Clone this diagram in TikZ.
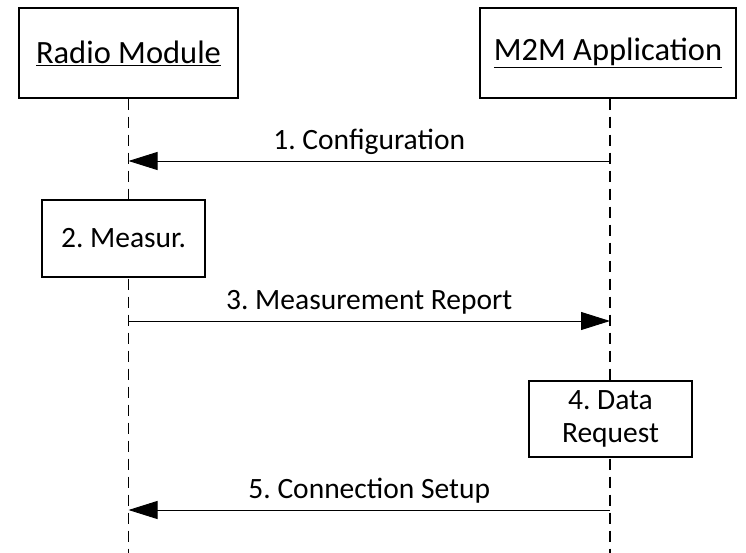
\documentclass[tikz,border=0pt]{standalone}
\usepackage{fontspec}
\setmainfont{Carlito}
\frenchspacing
\usetikzlibrary{positioning, arrows.meta}

\begin{document}
\begin{tikzpicture}[x=1pt,y=-1pt,
    font=\fontsize{29.5}{33}\selectfont,
    head/.style={draw,line width=1.2pt,fill=white,minimum height=90pt,inner sep=0pt,
      font=\fontsize{32.5}{36}\selectfont},
    act/.style={draw,line width=2.4pt,fill=white,minimum width=163pt,minimum height=77pt,align=center,inner sep=0pt},
    life/.style={line width=1.5pt,dash pattern=on 11pt off 7pt},
    msg/.style={line width=0.9pt,-{Triangle[length=29pt,width=18pt]}}]
  \useasboundingbox (0,0) rectangle (746,553);

  % lifeline heads
  \node[head,minimum width=219pt] (rm) at (128.5,53) {\underline{Radio Module}};
  \node[head,minimum width=256pt] (app) at (608,53) {\underline{M2M Application}};
  \coordinate (rmend) at (128.5,553);
  \coordinate (append) at (610,553);
  \draw[life] (rm.south) -- (rmend);
  \draw[life] (app.south -| append) -- (append);

  % activity boxes
  \node[act] (meas) at (123.5,238.5) {2. Measur.};
  \node[act,minimum height=76pt] (req) at (610.5,419) {4. Data\\Request};

  % messages
  \coordinate (rm1) at (128.5,161);
  \coordinate (app1) at (610,161);
  \coordinate (rm3) at (128.5,321);
  \coordinate (app3) at (610,321);
  \coordinate (rm5) at (128.5,510);
  \coordinate (app5) at (610,510);
  \draw[msg] (app1) -- node[above=3pt] {1. Configuration} (rm1);
  \draw[msg] (rm3) -- node[above=3pt] {3. Measurement Report} (app3);
  \draw[msg] (app5) -- node[above=3pt] {5. Connection Setup} (rm5);
\end{tikzpicture}
\end{document}
